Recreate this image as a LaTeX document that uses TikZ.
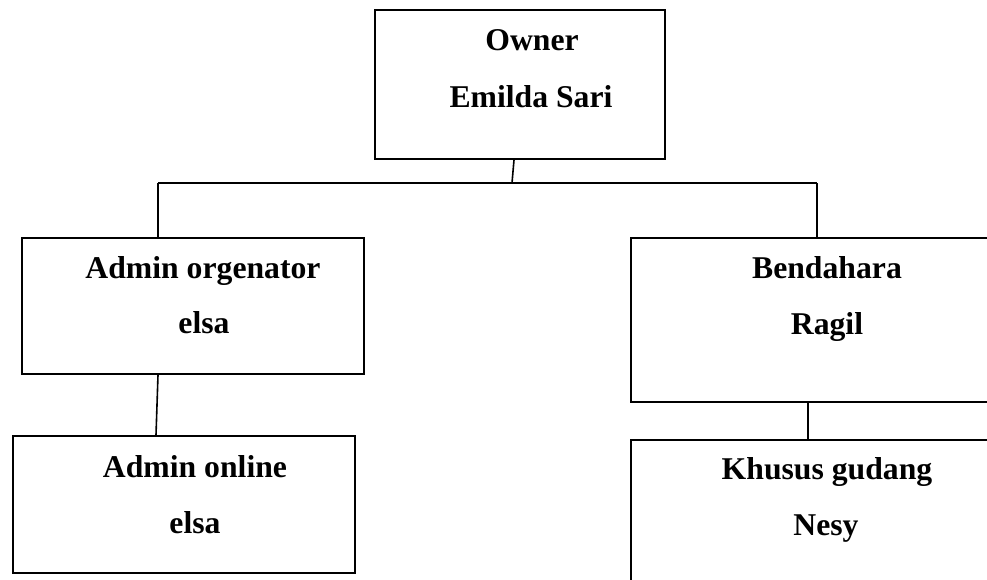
\documentclass[tikz,border=0pt]{standalone}
\usepackage{fontspec}
\setmainfont{Liberation Serif}
\usepackage{xcolor}
\usetikzlibrary{calc,positioning}
\definecolor{inkblack}{RGB}{0,0,0}
\tikzset{
  orgbox/.style={rectangle,draw=inkblack,line width=2pt,anchor=north west,
    inner sep=0pt},
  orgtext/.style={anchor=base,inner sep=0pt,font=\fontsize{31.7}{38}\selectfont\bfseries},
  link/.style={draw=inkblack,line width=1.6pt}
}

\begin{document}
\begin{tikzpicture}[x=1pt,y=-1pt]
  \useasboundingbox (0,0) rectangle (987,579);
  \clip (0,0) rectangle (987,579);
  % boxes
  \node[orgbox,minimum width=290pt,minimum height=149pt] (owner) at (374,9) {};
  \node[orgbox,minimum width=342pt,minimum height=136pt] (admorg) at (21,237) {};
  \node[orgbox,minimum width=342pt,minimum height=137pt] (admonline) at (12,435) {};
  \node[orgbox,minimum width=380pt,minimum height=164pt] (bendahara) at (630,237) {};
  \node[orgbox,minimum width=380pt,minimum height=170pt] (gudang) at (630,439) {};
  % texts
  \node[orgtext] (owner-role) at (532,50) {Owner};
  \node[orgtext] (owner-name) at (531,107) {Emilda Sari};
  \node[orgtext] (admorg-role) at (203,278) {Admin orgenator};
  \node[orgtext] (admorg-name) at (204,333) {elsa};
  \node[orgtext] (admonline-role) at (195,477) {Admin online};
  \node[orgtext] (admonline-name) at (195,533) {elsa};
  \node[orgtext] (bendahara-role) at (827,278) {Bendahara};
  \node[orgtext] (bendahara-name) at (827,334) {Ragil};
  \node[orgtext] (gudang-role) at (827,479) {Khusus gudang};
  \node[orgtext] (gudang-name) at (826,535) {Nesy};
  % connectors
  \coordinate (bus-mid) at (512,183);
  \coordinate (bus-l) at (158,183);
  \coordinate (bus-r) at (817,183);
  \coordinate (owner-foot) at ($(owner.south west)+(140,0)$);
  \coordinate (admorg-foot) at ($(admorg.south west)+(137,0)$);
  \coordinate (admonline-top) at ($(admonline.north west)+(144,0)$);
  \coordinate (bendahara-foot) at ($(bendahara.south west)+(178,0)$);
  \draw[link] (owner-foot) -- (bus-mid);
  \draw[link] (bus-l) -- (bus-r);
  \draw[link] (bus-l) -- (bus-l |- admorg.north);
  \draw[link] (bus-r) -- (bus-r |- bendahara.north);
  \draw[link] (admorg-foot) -- (admonline-top);
  \draw[link] (bendahara-foot) -- (bendahara-foot |- gudang.north);
\end{tikzpicture}
\end{document}
